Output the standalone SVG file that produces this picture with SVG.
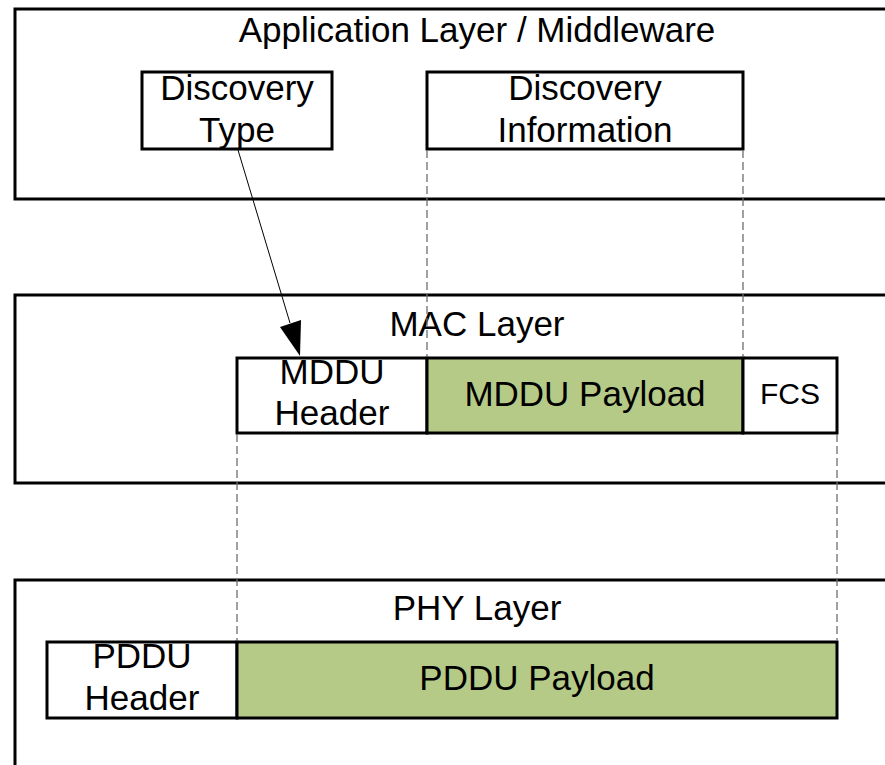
<svg xmlns="http://www.w3.org/2000/svg" width="885" height="765" viewBox="0 0 885 765">
<style>
.layer{fill:#fff;stroke:#000;stroke-width:3}
.box{fill:#fff;stroke:#000;stroke-width:3}
.green{fill:#b6ca88;stroke:#000;stroke-width:3}
.dash{stroke:#6e6e6e;stroke-width:1.3;stroke-dasharray:8,4;fill:none}
text{font-family:"Liberation Sans",Arial,sans-serif;font-size:35px;fill:#000;text-anchor:middle}
.small{font-size:30px}
</style>
<rect width="885" height="765" fill="#fff"/>
<g id="app-layer"><rect class="layer" x="15" y="9" width="900" height="190"/><text x="477" y="42">Application Layer / Middleware</text></g>
<g id="discovery-type"><rect class="box" x="142" y="72" width="190" height="77"/><text x="237" y="100">Discovery</text><text x="237" y="142">Type</text></g>
<g id="discovery-info"><rect class="box" x="427" y="72" width="316" height="77"/><text x="585" y="100">Discovery</text><text x="585" y="142">Information</text></g>
<g id="mac-layer"><rect class="layer" x="15" y="295" width="900" height="188"/><text x="477" y="336">MAC Layer</text></g>
<g id="mddu-header"><rect class="box" x="237" y="358" width="190" height="75"/><text x="332" y="384">MDDU</text><text x="332" y="425">Header</text></g>
<g id="mddu-payload"><rect class="green" x="427" y="358" width="316" height="75"/><text x="585" y="406">MDDU Payload</text></g>
<g id="fcs"><rect class="box" x="743" y="358" width="94" height="75"/><text class="small" x="790" y="404">FCS</text></g>
<g id="phy-layer"><rect class="layer" x="15" y="580" width="900" height="200"/><text x="477" y="620">PHY Layer</text></g>
<g id="pddu-header"><rect class="box" x="47" y="642" width="190" height="76"/><text x="142" y="668">PDDU</text><text x="142" y="710">Header</text></g>
<g id="pddu-payload"><rect class="green" x="237" y="642" width="600" height="76"/><text x="537" y="690">PDDU Payload</text></g>
<g id="connectors">
<line class="dash" x1="427" y1="150" x2="427" y2="357"/>
<line class="dash" x1="743" y1="150" x2="743" y2="357"/>
<line class="dash" x1="237" y1="434" x2="237" y2="641"/>
<line class="dash" x1="837" y1="434" x2="837" y2="641"/>
<line x1="238" y1="150" x2="290" y2="323" stroke="#000" stroke-width="1"/>
<polygon points="300,356 280,327 301,320" fill="#000"/>
</g>
</svg>
